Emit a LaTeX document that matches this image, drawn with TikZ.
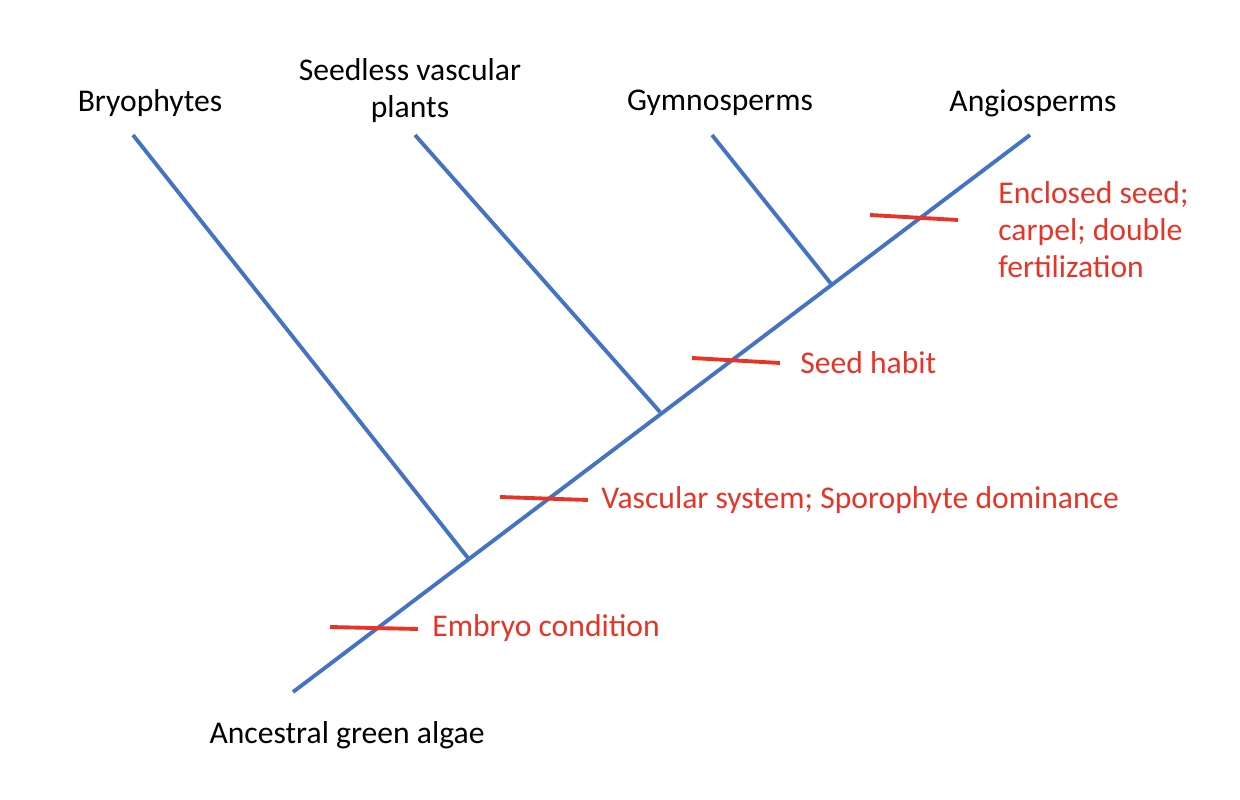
\documentclass[tikz,border=0pt]{standalone}
\usepackage{fontspec}
\setmainfont{Carlito}
\begin{document}
\begin{tikzpicture}[x=0.02cm,y=-0.02cm,
  br/.style={draw={rgb,255:red,68;green,114;blue,196},line width=2.2pt},
  tick/.style={draw={rgb,255:red,232;green,52;blue,38},line width=2.2pt},
  lbl/.style={font=\fontsize{18}{21}\selectfont,inner sep=0pt},
  rl/.style={lbl,anchor=west,text={rgb,255:red,232;green,52;blue,38}}]
\useasboundingbox (0,0) rectangle (1240,800);
\coordinate (root) at (293,692);
\coordinate (top) at (1030,135);
\coordinate (b1) at (468,558);
\coordinate (b2) at (660,412);
\coordinate (b3) at (832,285);
\coordinate (t1) at (133,135);
\coordinate (t2) at (415,135);
\coordinate (t3) at (712,135);
\draw[br] (root) -- (top);
\draw[br] (b1) -- (t1);
\draw[br] (b2) -- (t2);
\draw[br] (b3) -- (t3);
\coordinate (k1a) at (330,627); \coordinate (k1b) at (418,629);
\coordinate (k2a) at (500,497); \coordinate (k2b) at (588,500);
\coordinate (k3a) at (692,358); \coordinate (k3b) at (780,363);
\coordinate (k4a) at (870,215); \coordinate (k4b) at (958,220);
\draw[tick] (k1a) -- (k1b);
\draw[tick] (k2a) -- (k2b);
\draw[tick] (k3a) -- (k3b);
\draw[tick] (k4a) -- (k4b);
\node[lbl] (n1) at (150,103) {Bryophytes};
\node[lbl,align=center] (n2) at (410,91) {Seedless vascular\\plants};
\node[lbl] (n3) at (720,103) {Gymnosperms};
\node[lbl] (n4) at (1033,103) {Angiosperms};
\node[lbl] (n0) at (347,735) {Ancestral green algae};
\node[rl] (r1) at (432,628) {Embryo condition};
\node[rl] (r2) at (601,500) {Vascular system; Sporophyte dominance};
\node[rl] (r3) at (800,363) {Seed habit};
\node[rl,align=left] (r4) at (998,230) {Enclosed seed;\\carpel; double\\fertilization};
\end{tikzpicture}
\end{document}
